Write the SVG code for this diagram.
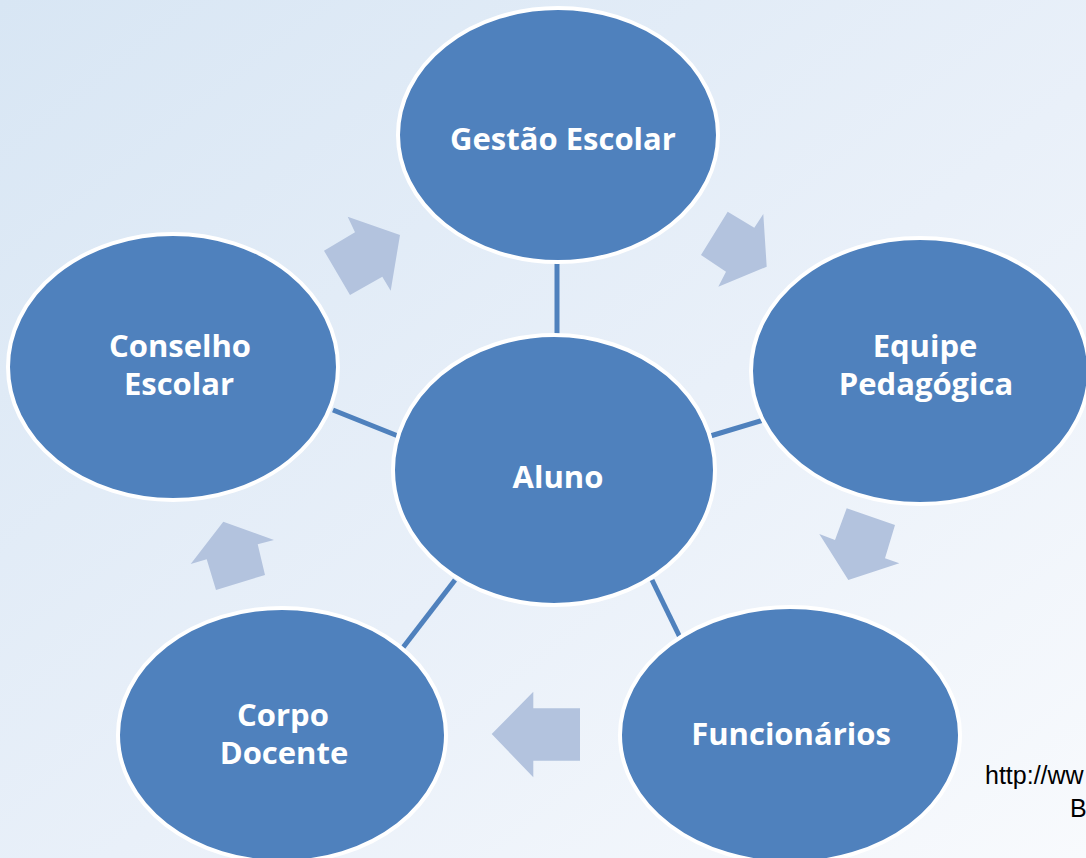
<svg xmlns="http://www.w3.org/2000/svg" width="1086" height="858" viewBox="0 0 1086 858">
<defs>
<linearGradient id="bg" x1="0" y1="0" x2="1" y2="1">
<stop offset="0" stop-color="#D8E6F4"/>
<stop offset="0.55" stop-color="#E9F0F9"/>
<stop offset="1" stop-color="#F8FAFD"/>
</linearGradient>
<style>
.node{fill:#4F81BD;stroke:#FFFFFF;stroke-width:4}
.lbl{font-family:"Open Sans","Liberation Sans",sans-serif;font-weight:bold;font-size:31px;fill:#FFFFFF;text-anchor:middle}
.con{stroke:#4F81BD;stroke-width:5;fill:none}
.arr{fill:#B3C3DE}
.src{font-family:"Liberation Sans",Arial,sans-serif;font-size:25px;fill:#000000}
</style>
</defs>
<rect width="1086" height="858" fill="url(#bg)"/>
<g id="arrows">
<polygon class="arr" points="347.7,216.7 355,232.3 324,250.7 350,295 382.3,276.7 390.7,290.7 400,235"/>
<polygon class="arr" points="727.7,211.7 754.3,227.7 763.3,214 766.7,266.7 718.3,286.7 726,271.7 701,255"/>
<polygon class="arr" points="846.7,508.3 895,525 885,558.3 899.3,563.3 848.3,580 819.3,534 835,540"/>
<polygon class="arr" points="580,708.3 580,760.7 533.3,760.7 533.3,777.3 491.7,734 533.3,691.7 533.3,708.3"/>
<polygon class="arr" points="223.3,521.7 274,540 257.7,544.3 265,575 216,590 206.7,559.3 190.7,564"/>
</g>
<g id="connectors">
<line class="con" x1="557" y1="262" x2="557" y2="350"/>
<line class="con" x1="707" y1="437" x2="770" y2="418"/>
<line class="con" x1="333" y1="410" x2="403" y2="438"/>
<line class="con" x1="455" y1="580" x2="378" y2="680"/>
<line class="con" x1="652" y1="580" x2="692" y2="662"/>
</g>
<g id="gestao">
<ellipse class="node" cx="558" cy="135" rx="160" ry="127"/>
<text class="lbl" x="563" y="150">Gestão Escolar</text>
</g>
<g id="equipe">
<ellipse class="node" cx="920" cy="371" rx="169" ry="133"/>
<text class="lbl" x="925" y="357">Equipe</text>
<text class="lbl" x="926" y="395">Pedagógica</text>
</g>
<g id="funcionarios">
<ellipse class="node" cx="790" cy="735" rx="170" ry="128"/>
<text class="lbl" x="791" y="745">Funcionários</text>
</g>
<g id="corpo">
<ellipse class="node" cx="282" cy="735" rx="164" ry="127"/>
<text class="lbl" x="283" y="726">Corpo</text>
<text class="lbl" x="284" y="764">Docente</text>
</g>
<g id="conselho">
<ellipse class="node" cx="173" cy="367" rx="165" ry="133"/>
<text class="lbl" x="180" y="357">Conselho</text>
<text class="lbl" x="179" y="395">Escolar</text>
</g>
<g id="aluno">
<ellipse class="node" cx="554" cy="470" rx="161" ry="135"/>
<text class="lbl" x="558" y="488">Aluno</text>
</g>
<g id="source">
<text class="src" x="985" y="784">http://ww</text>
<text class="src" x="1070" y="817">B</text>
</g>
</svg>
